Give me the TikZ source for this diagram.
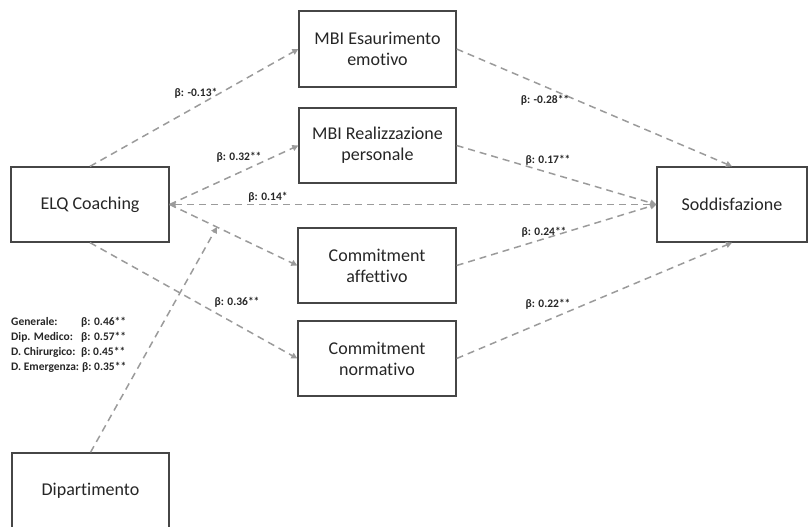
\documentclass[tikz,border=0pt]{standalone}
\usepackage{fontspec}
\setmainfont{Carlito}[Ligatures=NoCommon]
\usetikzlibrary{arrows.meta,calc}
\definecolor{boxline}{RGB}{70,70,70}
\definecolor{conn}{RGB}{155,155,155}
\tikzset{
  varbox/.style={draw=boxline, line width=1.3pt, fill=white, minimum height=75pt, align=center, font=\fontsize{18}{21}\selectfont, text=black!85, inner sep=2pt},
  conline/.style={draw=conn, line width=1.5pt, dash pattern=on 7pt off 5pt, -{Triangle[length=6pt,width=6pt]}},
  biline/.style={draw=conn, line width=1.5pt, dash pattern=on 7pt off 5pt, {Triangle[length=6pt,width=6pt]}-{Triangle[length=6pt,width=6pt]}},
  coef/.style={font=\fontsize{11.5}{13}\selectfont\bfseries, text=black!85, inner sep=1pt},
  modtxt/.style={font=\fontsize{11.5}{13}\selectfont\bfseries, text=black!85, inner sep=0pt, anchor=base west}
}
\begin{document}
\begin{tikzpicture}[x=1pt,y=-1pt]
\useasboundingbox (0,0) rectangle (808,527);
\clip (0,0) rectangle (808,527);

\node[varbox, minimum width=158pt] (elq) at (90,204.5) {ELQ Coaching};
\node[varbox, minimum width=157pt, minimum height=76pt] (mbie) at (377.5,49) {MBI Esaurimento\\emotivo};
\node[varbox, minimum width=157pt] (mbir) at (377.5,145.5) {MBI Realizzazione\\personale};
\node[varbox, minimum width=158pt] (ca) at (377,265.5) {Commitment\\affettivo};
\node[varbox, minimum width=158pt] (cn) at (377,358.5) {Commitment\\normativo};
\node[varbox, minimum width=150pt] (sod) at (732,204.5) {Soddisfazione};
\node[varbox, minimum width=157pt] (dip) at (90.5,490.5) {Dipartimento};

\coordinate (modpt) at ($(elq.east)!0.37!(ca.west)$);

\draw[conline] (elq.north) -- (mbie.west);
\draw[conline] (elq.east) -- (mbir.west);
\draw[biline] (elq.east) -- (sod.west);
\draw[conline] (elq.east) -- (ca.west);
\draw[conline] (elq.south) -- (cn.west);
\draw[conline] (dip.north) -- (modpt);

\draw[conline] (mbie.east) -- (sod.north);
\draw[conline] (mbir.east) -- (sod.west);
\draw[conline] (ca.east) -- (sod.west);
\draw[conline] (cn.east) -- (sod.south);

\node[coef] (l1) at (196,93) {β: -0.13*};
\node[coef] (l2) at (239,157) {β: 0.32**};
\node[coef] (l3) at (268,197) {β: 0.14*};
\node[coef] (l4) at (237,302) {β: 0.36**};
\node[coef] (l5) at (545,100) {β: -0.28**};
\node[coef] (l6) at (548,160) {β: 0.17**};
\node[coef] (l7) at (544,232) {β: 0.24**};
\node[coef] (l8) at (548,304) {β: 0.22**};

\node[modtxt] (m1) at (11,325) {Generale:};
\node[modtxt] (m1b) at (81,325) {β: 0.46**};
\node[modtxt] (m2) at (11,340) {Dip. Medico:};
\node[modtxt] (m2b) at (81,340) {β: 0.57**};
\node[modtxt] (m3) at (11,355) {D. Chirurgico:};
\node[modtxt] (m3b) at (81,355) {β:\ 0.45**};
\node[modtxt] (m4) at (11,370) {D. Emergenza:};
\node[modtxt] (m4b) at (82,370) {β:\ 0.35**};
\end{tikzpicture}
\end{document}
